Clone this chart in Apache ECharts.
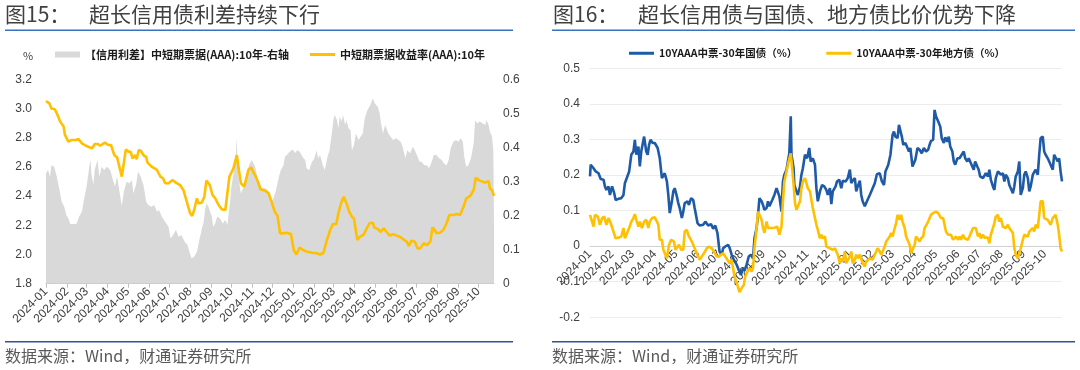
<!DOCTYPE html>
<html><head><meta charset="utf-8">
<script src="https://cdn.jsdelivr.net/npm/echarts@6/dist/echarts.min.js"></script>
<style>html,body{margin:0;padding:0;background:#fff}#c{width:1080px;height:370px}</style>
</head><body><div id="c"></div>
<script>
// x values: days since 2024-01-01
const BASE_DATE = [2024, 0, 1];
const LEFT_END_DAY = 662, RIGHT_END_DAY = 663;

const leftTitle = ['图15：', '超长信用债利差持续下行'];
const rightTitle = ['图16：', '超长信用债与国债、地方债比价优势下降'];
const sourceText = '数据来源：Wind，财通证券研究所';
const leftNames = ['【信用利差】中短期票据(AAA):10年-右轴', '中短期票据收益率(AAA):10年'];
const rightNames = ['10YAAA中票-30年国债（%）', '10YAAA中票-30年地方债（%）'];

// 中短期票据收益率(AAA):10年 (%), left axis
const leftYield = [[0,3.05],[5,3.035],[8,3.0],[13,2.995],[16,2.967],[21,2.91],[26,2.876],[28,2.819],[33,2.773],[38,2.784],[45,2.784],[48,2.791],[53,2.761],[60,2.743],[68,2.727],[72,2.757],[77,2.757],[80,2.745],[87,2.766],[92,2.75],[96,2.75],[101,2.681],[105,2.665],[112,2.533],[118,2.72],[122,2.704],[125,2.704],[128,2.658],[132,2.681],[134,2.652],[137,2.716],[140,2.711],[145,2.675],[148,2.67],[150,2.629],[156,2.602],[164,2.579],[169,2.533],[173,2.522],[176,2.488],[181,2.488],[183,2.476],[187,2.51],[192,2.492],[198,2.476],[203,2.442],[208,2.362],[213,2.282],[216,2.264],[219,2.305],[223,2.385],[225,2.351],[230,2.355],[234,2.396],[237,2.506],[242,2.476],[246,2.408],[250,2.385],[255,2.339],[260,2.309],[265,2.305],[267,2.309],[271,2.533],[277,2.59],[282,2.681],[285,2.579],[288,2.488],[293,2.465],[295,2.47],[299,2.579],[303,2.597],[306,2.567],[310,2.533],[314,2.488],[317,2.447],[324,2.437],[329,2.419],[334,2.351],[338,2.293],[342,2.266],[346,2.145],[351,2.145],[356,2.149],[362,2.14],[366,2.031],[370,2.0],[375,2.047],[380,2.031],[385,2.02],[393,2.012],[400,2.008],[405,2.0],[410,2.012],[415,2.099],[420,2.168],[424,2.209],[429,2.209],[432,2.282],[436,2.351],[440,2.396],[444,2.351],[448,2.293],[452,2.259],[455,2.248],[460,2.099],[464,2.122],[469,2.134],[474,2.179],[478,2.214],[483,2.218],[485,2.186],[491,2.172],[494,2.154],[499,2.179],[503,2.156],[508,2.129],[513,2.14],[518,2.129],[523,2.122],[528,2.104],[533,2.088],[536,2.058],[540,2.095],[545,2.088],[549,2.042],[553,2.042],[558,2.077],[563,2.065],[568,2.088],[571,2.186],[574,2.172],[577,2.145],[582,2.149],[587,2.168],[592,2.214],[596,2.271],[602,2.271],[607,2.278],[612,2.271],[617,2.328],[621,2.385],[627,2.401],[632,2.442],[635,2.526],[641,2.506],[649,2.492],[654,2.503],[656,2.453],[659,2.442],[662,2.401]];

// 【信用利差】中短期票据(AAA):10年 (%), right axis
const leftSpread = [[0,0.324],[3,0.334],[6,0.314],[8,0.348],[12,0.343],[16,0.314],[20,0.275],[23,0.241],[27,0.226],[30,0.202],[33,0.192],[36,0.175],[45,0.175],[49,0.197],[53,0.211],[56,0.246],[60,0.285],[64,0.343],[66,0.363],[67,0.324],[70,0.29],[72,0.334],[76,0.363],[79,0.314],[82,0.343],[86,0.334],[90,0.343],[95,0.334],[99,0.304],[102,0.285],[105,0.314],[109,0.265],[112,0.228],[115,0.27],[119,0.299],[123,0.295],[127,0.304],[129,0.265],[133,0.29],[136,0.329],[140,0.314],[144,0.29],[148,0.241],[151,0.231],[156,0.226],[160,0.231],[164,0.211],[167,0.216],[171,0.197],[176,0.182],[181,0.167],[184,0.133],[188,0.143],[192,0.158],[196,0.138],[200,0.143],[205,0.123],[209,0.114],[212,0.094],[215,0.074],[219,0.079],[223,0.094],[226,0.123],[230,0.158],[233,0.182],[235,0.216],[237,0.236],[240,0.226],[242,0.221],[245,0.197],[247,0.167],[250,0.177],[253,0.197],[257,0.192],[261,0.177],[265,0.187],[268,0.172],[270,0.167],[272,0.241],[274,0.285],[278,0.334],[280,0.363],[282,0.427],[283,0.353],[285,0.304],[288,0.265],[290,0.267],[293,0.29],[297,0.324],[300,0.348],[304,0.363],[306,0.368],[309,0.343],[311,0.324],[315,0.295],[319,0.28],[324,0.28],[329,0.27],[332,0.236],[336,0.25],[340,0.275],[344,0.314],[347,0.334],[351,0.348],[353,0.373],[356,0.378],[360,0.387],[365,0.394],[368,0.383],[371,0.392],[375,0.387],[379,0.373],[383,0.363],[385,0.339],[389,0.334],[393,0.358],[396,0.365],[400,0.392],[402,0.368],[405,0.378],[409,0.348],[412,0.334],[416,0.373],[419,0.392],[422,0.436],[425,0.485],[427,0.495],[430,0.48],[432,0.456],[434,0.49],[437,0.476],[439,0.495],[442,0.466],[444,0.48],[447,0.456],[450,0.451],[452,0.392],[455,0.407],[458,0.441],[462,0.422],[465,0.432],[468,0.441],[471,0.485],[475,0.51],[479,0.524],[483,0.544],[486,0.529],[490,0.52],[493,0.5],[495,0.471],[498,0.441],[501,0.466],[503,0.471],[506,0.441],[509,0.432],[513,0.422],[517,0.427],[521,0.422],[524,0.417],[527,0.402],[531,0.368],[534,0.392],[538,0.383],[542,0.402],[545,0.392],[549,0.373],[552,0.358],[555,0.358],[559,0.348],[563,0.348],[566,0.339],[570,0.358],[573,0.378],[577,0.378],[581,0.368],[585,0.363],[588,0.353],[592,0.348],[595,0.363],[598,0.397],[602,0.417],[606,0.422],[609,0.417],[613,0.427],[616,0.417],[618,0.373],[621,0.343],[624,0.348],[628,0.368],[632,0.412],[634,0.48],[637,0.471],[641,0.476],[645,0.471],[649,0.466],[651,0.48],[654,0.466],[656,0.446],[659,0.432],[661,0.392],[662,0.177]];

// 10YAAA中票-30年国债 (%)
const rightGov = [[0,0.196],[1,0.229],[5,0.219],[8,0.21],[12,0.205],[15,0.189],[19,0.187],[21,0.168],[23,0.158],[26,0.168],[28,0.144],[31,0.168],[34,0.149],[36,0.13],[40,0.133],[44,0.135],[47,0.144],[49,0.177],[51,0.182],[55,0.21],[58,0.257],[61,0.266],[63,0.299],[65,0.257],[68,0.28],[70,0.224],[72,0.266],[76,0.308],[79,0.266],[81,0.257],[83,0.285],[85,0.299],[88,0.29],[91,0.29],[95,0.276],[98,0.247],[101,0.191],[103,0.187],[105,0.205],[108,0.182],[110,0.144],[112,0.093],[115,0.126],[117,0.154],[119,0.163],[122,0.14],[124,0.121],[126,0.107],[129,0.079],[131,0.097],[133,0.121],[137,0.126],[139,0.116],[142,0.135],[145,0.13],[147,0.107],[151,0.065],[154,0.058],[159,0.06],[162,0.069],[166,0.058],[170,0.062],[173,0.049],[176,0.058],[179,0.037],[182,-0.015],[185,-0.024],[187,-0.006],[190,-0.001],[194,0.004],[196,-0.004],[199,-0.024],[202,-0.038],[206,-0.052],[209,-0.067],[212,-0.081],[215,-0.062],[217,-0.069],[220,-0.052],[223,-0.029],[226,-0.024],[229,-0.034],[231,0.022],[234,0.051],[236,0.088],[238,0.135],[241,0.126],[243,0.116],[245,0.102],[248,0.107],[250,0.126],[252,0.112],[256,0.13],[259,0.144],[262,0.163],[264,0.158],[266,0.14],[269,0.097],[271,0.182],[273,0.201],[276,0.215],[278,0.238],[280,0.261],[282,0.365],[283,0.257],[286,0.219],[287,0.172],[290,0.154],[292,0.144],[295,0.168],[297,0.201],[299,0.219],[302,0.257],[305,0.247],[308,0.276],[310,0.238],[313,0.247],[316,0.229],[318,0.163],[320,0.126],[323,0.154],[326,0.172],[329,0.168],[332,0.158],[334,0.144],[337,0.163],[339,0.118],[341,0.154],[345,0.168],[347,0.182],[350,0.187],[353,0.163],[355,0.184],[359,0.182],[362,0.191],[365,0.215],[367,0.177],[369,0.184],[372,0.191],[374,0.154],[376,0.168],[379,0.184],[381,0.144],[383,0.126],[386,0.112],[389,0.126],[393,0.144],[396,0.158],[400,0.177],[403,0.202],[407,0.205],[410,0.182],[413,0.172],[415,0.21],[417,0.205],[419,0.229],[422,0.257],[425,0.313],[427,0.322],[429,0.308],[432,0.304],[434,0.341],[436,0.346],[438,0.308],[440,0.285],[443,0.29],[446,0.276],[448,0.266],[450,0.276],[453,0.224],[455,0.219],[457,0.243],[460,0.276],[463,0.271],[466,0.261],[469,0.276],[472,0.266],[475,0.271],[477,0.285],[479,0.296],[482,0.299],[484,0.383],[486,0.365],[489,0.351],[492,0.336],[494,0.304],[497,0.29],[499,0.306],[502,0.294],[504,0.308],[506,0.28],[509,0.266],[511,0.238],[513,0.229],[516,0.247],[519,0.247],[521,0.252],[525,0.266],[527,0.247],[530,0.238],[532,0.247],[534,0.243],[537,0.224],[539,0.215],[541,0.238],[544,0.224],[546,0.215],[548,0.196],[552,0.191],[554,0.187],[556,0.205],[559,0.196],[561,0.215],[563,0.187],[566,0.168],[568,0.158],[570,0.191],[573,0.21],[575,0.21],[577,0.201],[580,0.205],[582,0.182],[584,0.201],[587,0.191],[589,0.172],[591,0.163],[594,0.149],[596,0.168],[598,0.196],[601,0.21],[603,0.238],[605,0.144],[608,0.163],[610,0.201],[612,0.21],[615,0.191],[617,0.154],[619,0.168],[622,0.201],[624,0.205],[626,0.215],[629,0.201],[631,0.257],[633,0.304],[636,0.308],[638,0.266],[640,0.257],[643,0.247],[645,0.238],[647,0.229],[650,0.215],[652,0.257],[654,0.257],[657,0.238],[659,0.247],[661,0.21],[663,0.182]];

// 10YAAA中票-30年地方债 (%)
const rightLocal = [[0,0.088],[1,0.09],[5,0.055],[7,0.088],[11,0.083],[14,0.06],[17,0.079],[20,0.083],[23,0.06],[26,0.079],[29,0.065],[33,0.041],[36,0.022],[40,0.024],[44,0.027],[47,0.051],[49,0.022],[51,0.022],[55,0.051],[58,0.069],[61,0.079],[63,0.09],[65,0.074],[68,0.055],[70,0.069],[73,0.051],[76,0.069],[79,0.074],[82,0.051],[84,0.069],[87,0.079],[91,0.081],[94,0.069],[96,0.06],[98,0.018],[101,0.018],[103,-0.01],[106,-0.024],[108,-0.034],[111,0.004],[114,0.018],[116,0.022],[118,0.013],[120,-0.01],[122,-0.006],[125,0.004],[128,-0.01],[131,-0.01],[133,0.041],[136,0.046],[138,0.032],[140,0.027],[143,0.013],[145,0.004],[147,-0.006],[152,-0.029],[154,-0.038],[157,-0.029],[160,-0.02],[164,-0.006],[167,-0.001],[171,-0.006],[174,-0.015],[178,-0.029],[181,-0.029],[184,-0.024],[187,-0.02],[189,-0.024],[193,-0.038],[196,-0.048],[199,-0.038],[201,-0.062],[203,-0.085],[207,-0.109],[210,-0.129],[213,-0.118],[216,-0.109],[218,-0.085],[221,-0.071],[224,-0.062],[227,-0.071],[229,-0.062],[231,-0.006],[234,0.051],[236,0.097],[238,0.088],[241,0.074],[243,0.051],[245,0.037],[248,0.069],[250,0.051],[252,0.051],[256,0.051],[259,0.052],[263,0.055],[266,0.032],[269,0.055],[271,0.126],[273,0.182],[276,0.21],[279,0.238],[282,0.261],[284,0.219],[286,0.172],[288,0.121],[290,0.102],[292,0.097],[295,0.126],[297,0.163],[299,0.182],[302,0.191],[304,0.177],[306,0.163],[309,0.154],[311,0.13],[313,0.107],[316,0.079],[318,0.06],[320,0.046],[323,0.022],[325,0.032],[327,0.022],[330,0.027],[332,-0.001],[334,0.004],[337,-0.006],[339,-0.001],[341,-0.01],[344,-0.006],[346,-0.015],[348,-0.024],[351,-0.048],[353,-0.034],[355,-0.043],[358,-0.015],[360,-0.048],[362,-0.043],[365,-0.029],[367,-0.015],[369,-0.048],[372,-0.038],[374,-0.024],[376,-0.034],[379,-0.024],[381,-0.02],[383,-0.048],[386,-0.057],[388,-0.043],[390,-0.048],[393,-0.034],[395,-0.029],[397,-0.038],[400,-0.024],[402,-0.015],[404,-0.006],[407,-0.015],[409,-0.024],[411,-0.02],[414,-0.001],[416,0.013],[418,0.008],[421,0.027],[423,0.037],[425,0.027],[428,0.051],[430,0.065],[432,0.088],[435,0.074],[437,0.088],[439,0.069],[442,0.051],[444,0.027],[446,0.032],[449,0.004],[451,-0.02],[453,-0.024],[456,0.004],[458,0.027],[460,0.027],[463,0.013],[465,0.022],[468,0.027],[470,0.051],[472,0.055],[475,0.069],[477,0.079],[479,0.088],[482,0.093],[484,0.097],[486,0.097],[489,0.093],[491,0.097],[493,0.079],[496,0.079],[498,0.06],[500,0.041],[503,0.032],[505,0.027],[507,0.032],[510,0.018],[512,0.013],[514,0.027],[517,0.018],[519,0.027],[521,0.018],[524,0.032],[526,0.022],[528,0.027],[531,0.018],[533,0.027],[535,0.032],[538,0.051],[540,0.046],[542,0.051],[545,0.027],[547,0.037],[549,0.022],[552,0.032],[554,0.024],[556,0.027],[559,0.024],[561,0.008],[563,0.032],[566,0.051],[568,0.065],[570,0.083],[573,0.088],[575,0.069],[577,0.079],[580,0.055],[582,0.06],[584,0.051],[587,0.06],[589,0.051],[591,0.046],[594,0.037],[596,-0.006],[598,-0.024],[601,-0.034],[603,-0.029],[605,-0.006],[608,0.018],[610,0.032],[612,0.032],[615,0.027],[617,0.041],[619,0.037],[622,0.051],[624,0.041],[626,0.06],[629,0.051],[631,0.088],[633,0.126],[636,0.126],[638,0.079],[640,0.083],[643,0.074],[645,0.069],[647,0.06],[650,0.079],[652,0.079],[654,0.088],[657,0.06],[659,0.032],[661,-0.006],[663,-0.015]];

// axis ranges (tick labels are generated from these)
const leftAxisL = {min: 1.8, max: 3.2, interval: 0.2};
const leftAxisR = {min: 0, max: 0.6, interval: 0.1};
const rightAxis = {min: -0.2, max: 0.5, interval: 0.1};

const DAY = 86400000;
const base = new Date(BASE_DATE[0], BASE_DATE[1], BASE_DATE[2]).getTime();
const t = d => base + d * DAY;
const conv = arr => arr.map(p => [t(p[0]), p[1]]);
const fmt1 = v => Math.abs(v) < 1e-9 ? '0' : v.toFixed(1);

const FONT = '"Noto Sans CJK SC", "Noto Sans", sans-serif';
const axisText = {fontSize: 12, color: '#404040', fontFamily: 'Liberation Sans, Arial, sans-serif'};
const legendText = {fontSize: 10.5, color: '#1a1a1a', fontWeight: 'bold', fontFamily: FONT};

// right chart geometry: zero line position inside grid
const R_TOP = 68.3, R_H = 249;
const zeroOffset = -(R_H * (0 - rightAxis.min) / (rightAxis.max - rightAxis.min));

function timeAxis(grid, endDay, extra) {
  return Object.assign({
    type: 'time', gridIndex: grid, min: t(0), max: t(endDay),
    minInterval: 28 * DAY, maxInterval: 31 * DAY, splitNumber: 22,
    splitLine: {show: false},
    axisLabel: Object.assign({rotate: 45, formatter: '{yyyy}-{MM}', margin: 6, hideOverlap: false}, axisText)
  }, extra);
}

const chart = echarts.init(document.getElementById('c'), null, {renderer: 'canvas'});
chart.setOption({
  animation: false,
  backgroundColor: '#fff',
  grid: [
    {left: 46, top: 79.3, width: 448, height: 204.4},
    {left: 590, top: R_TOP, width: 472, height: R_H}
  ],
  legend: [
    {left: 55, top: 49, padding: 0, icon: 'rect', itemWidth: 25, itemHeight: 6, data: [leftNames[0]], textStyle: Object.assign({}, legendText, {fontSize: 11}), selectedMode: false},
    {left: 310, top: 49, padding: 0, icon: 'rect', itemWidth: 25, itemHeight: 3, data: [leftNames[1]], textStyle: Object.assign({}, legendText, {fontSize: 11}), selectedMode: false},
    {left: 629, top: 48, padding: 0, icon: 'rect', itemWidth: 25, itemHeight: 3, itemGap: 29, data: rightNames, textStyle: legendText, selectedMode: false}
  ],
  xAxis: [
    timeAxis(0, LEFT_END_DAY, {
      axisLine: {lineStyle: {color: '#bfbfbf', width: 1}},
      axisTick: {show: true, length: 4, lineStyle: {color: '#bfbfbf'}}
    }),
    timeAxis(1, RIGHT_END_DAY, {
      offset: zeroOffset,
      axisLine: {onZero: false, lineStyle: {color: '#d0d0d0', width: 1.2}},
      axisTick: {show: false}
    })
  ],
  yAxis: [
    Object.assign({type: 'value', gridIndex: 0, position: 'left',
      axisLine: {show: false}, axisTick: {show: false}, splitLine: {show: false},
      axisLabel: Object.assign({margin: 14, formatter: v => v.toFixed(1)}, axisText)}, leftAxisL),
    Object.assign({type: 'value', gridIndex: 0, position: 'right',
      axisLine: {show: false}, axisTick: {show: false}, splitLine: {show: false},
      axisLabel: Object.assign({margin: 9, formatter: fmt1}, axisText)}, leftAxisR),
    Object.assign({type: 'value', gridIndex: 1, position: 'left',
      axisLine: {show: false}, axisTick: {show: false},
      splitLine: {show: true, lineStyle: {color: '#ececec', width: 1}},
      axisLabel: Object.assign({margin: 10, formatter: fmt1}, axisText)}, rightAxis)
  ],
  series: [
    {name: leftNames[0], type: 'line', xAxisIndex: 0, yAxisIndex: 1, data: conv(leftSpread),
      symbol: 'none', lineStyle: {width: 0}, itemStyle: {color: '#d9d9d9'},
      areaStyle: {color: '#d9d9d9', opacity: 1}, z: 1},
    {name: leftNames[1], type: 'line', xAxisIndex: 0, yAxisIndex: 0, data: conv(leftYield),
      symbol: 'none', itemStyle: {color: '#ffc000'}, lineStyle: {color: '#ffc000', width: 2.6}, z: 3},
    {name: rightNames[0], type: 'line', xAxisIndex: 1, yAxisIndex: 2, data: conv(rightGov),
      symbol: 'none', itemStyle: {color: '#1f5aa6'}, lineStyle: {color: '#1f5aa6', width: 2.6}, z: 3},
    {name: rightNames[1], type: 'line', xAxisIndex: 1, yAxisIndex: 2, data: conv(rightLocal),
      symbol: 'none', itemStyle: {color: '#ffc000'}, lineStyle: {color: '#ffc000', width: 2.6}, z: 4}
  ],
  graphic: [
    {type: 'text', left: 5, top: 4, style: {text: leftTitle[0], fontSize: 21, fontFamily: FONT, fill: '#404040'}},
    {type: 'text', left: 89, top: 4, style: {text: leftTitle[1], fontSize: 21, fontFamily: FONT, fill: '#404040'}},
    {type: 'text', left: 553, top: 4, style: {text: rightTitle[0], fontSize: 21, fontFamily: FONT, fill: '#404040'}},
    {type: 'text', left: 638, top: 4, style: {text: rightTitle[1], fontSize: 21, fontFamily: FONT, fill: '#404040'}},
    {type: 'rect', shape: {x: 5, y: 29.5, width: 508, height: 1.5}, style: {fill: '#3a70c0'}},
    {type: 'rect', shape: {x: 552, y: 29.5, width: 523, height: 1.5}, style: {fill: '#3a70c0'}},
    {type: 'rect', shape: {x: 5, y: 341, width: 508, height: 1.5}, style: {fill: '#2f5597'}},
    {type: 'rect', shape: {x: 552, y: 341, width: 523, height: 1.5}, style: {fill: '#2f5597'}},
    {type: 'text', left: 5, top: 348, style: {text: sourceText, fontSize: 16, fontFamily: FONT, fill: '#595959'}},
    {type: 'text', left: 552, top: 348, style: {text: sourceText, fontSize: 16, fontFamily: FONT, fill: '#595959'}},
    {type: 'text', left: 23, top: 50, style: {text: '%', fontSize: 11, fontFamily: FONT, fill: '#404040'}}
  ]
});
</script></body></html>
